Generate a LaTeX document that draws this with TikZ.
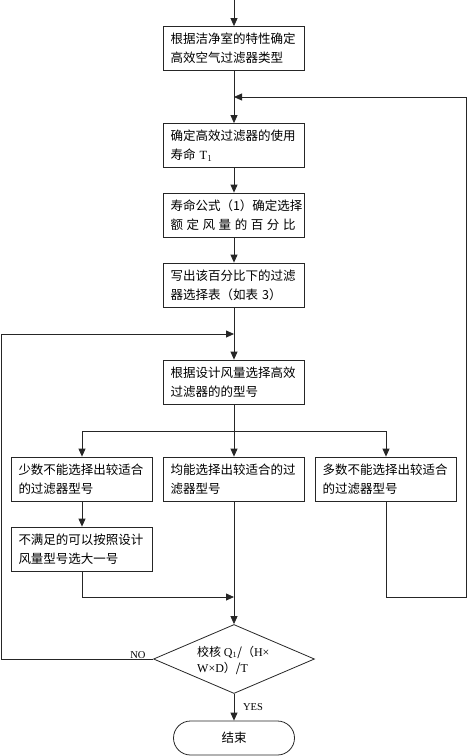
\documentclass[tikz,border=0pt]{standalone}
\usepackage{fontspec}
\setmainfont{Liberation Serif}
\newfontfamily\cjk{Noto Sans CJK SC}
\usetikzlibrary{arrows.meta,shapes.geometric}
\begin{document}
\begin{tikzpicture}[x=1pt,y=-1pt,
  box/.style={draw=black!85, line width=0.8pt, minimum width=141pt, minimum height=44pt,
    inner xsep=7pt, inner ysep=2pt, text width=127pt, align=left,
    font=\fontsize{12.5}{19}\cjk},
  arr/.style={draw=black!85, line width=0.8pt, -{Triangle[length=8pt,width=7pt]}},
  ln/.style={draw=black!85, line width=0.8pt},
  lbl/.style={font=\fontsize{10.5}{12}\rmfamily, inner sep=0pt}]
\useasboundingbox (0,0) rectangle (467,756);
% junction coordinates
\coordinate (top) at (234,0);
\coordinate (j1) at (234,97);
\coordinate (j2) at (234,334);
\coordinate (br) at (234,431);
\coordinate (j3) at (234,597);
\coordinate (rc) at (466,597);
\coordinate (lc) at (1,659);
% boxes
\node[box] (b1) at (234,48.5) {根据洁净室的特性确定\\高效空气过滤器类型};
\node[box] (b2) at (234,145.5) {确定高效过滤器的使用\\寿命 {\rmfamily T}$_1$};
\node[box] (b3) at (234,215) {寿命公式（1）确定选择\\\hbox to 125pt{额\hfil 定\hfil 风\hfil 量\hfil 的\hfil 百\hfil 分\hfil 比}};
\node[box] (b4) at (234,285) {写出该百分比下的过滤\\器选择表（如表 3）};
\node[box] (b5) at (234,382) {根据设计风量选择高效\\过滤器的的型号};
\node[box] (bA) at (82,479) {少数不能选择出较适合\\的过滤器型号};
\node[box] (bB) at (234,479) {均能选择出较适合的过\\滤器型号};
\node[box] (bC) at (386,479) {多数不能选择出较适合\\的过滤器型号};
\node[box] (bD) at (82,549) {不满足的可以按照设计\\风量型号选大一号};
\node[draw=black!85, line width=0.8pt, shape=diamond, minimum width=161pt, minimum height=69pt, inner sep=0pt] (dia) at (234,659) {};
\node[anchor=west, align=left, inner sep=0pt, font=\fontsize{12}{16}\cjk] (dt) at (197,660)
  {校核 {\rmfamily Q}$_1$/（{\rmfamily H×}\\{\rmfamily W×D}）/{\rmfamily T}};
\node[draw=black!85, line width=0.8pt, rectangle, rounded corners=17pt, minimum width=121pt,
  minimum height=34pt, font=\fontsize{12.5}{15}\cjk] (end) at (234,738) {结束};
% connectors
\draw[arr] (top) -- (b1);
\draw[ln] (b1) -- (j1);
\draw[arr] (j1) -- (b2);
\draw[arr] (b2) -- (b3);
\draw[arr] (b3) -- (b4);
\draw[ln] (b4) -- (j2);
\draw[arr] (j2) -- (b5);
\draw[ln] (b5) -- (br);
\draw[arr] (br) -| (bA);
\draw[arr] (br) -- (bB);
\draw[arr] (br) -| (bC);
\draw[arr] (bA) -- (bD);
\draw[arr] (bD) |- (j3);
\draw[arr] (bB) -- (dia);
\draw[arr] (bC) |- (rc) |- (j1);
\draw[arr] (dia.west) -- (lc) |- (j2);
\draw[arr] (dia) -- (end);
\node[lbl] (no) at (138,655) {NO};
\node[lbl] (yes) at (253,707) {YES};
\end{tikzpicture}
\end{document}
